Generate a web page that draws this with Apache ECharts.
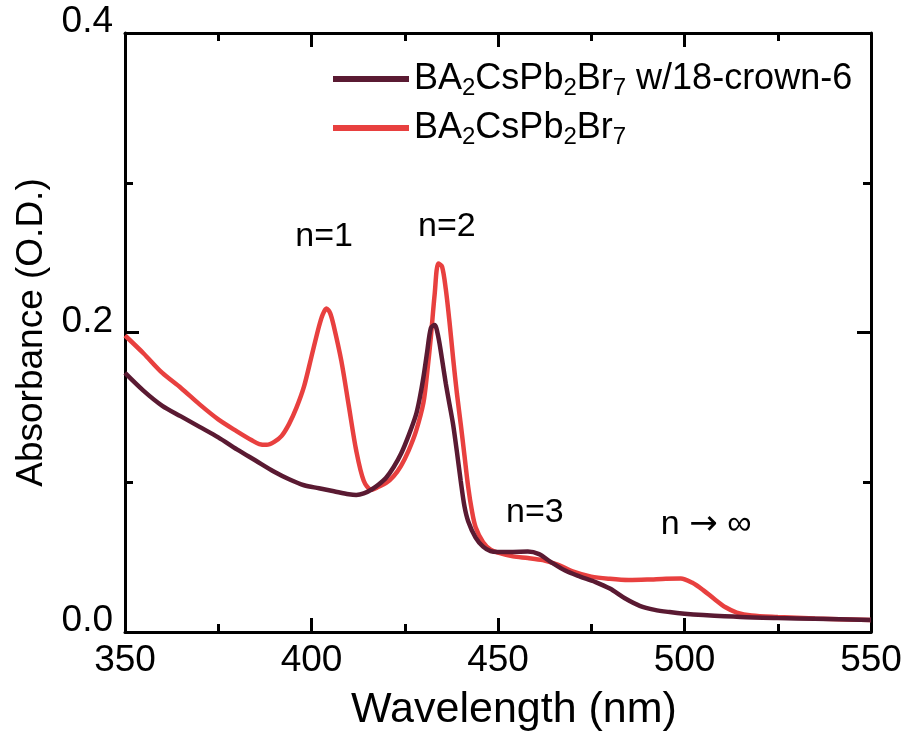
<!DOCTYPE html>
<html><head><meta charset="utf-8">
<script src="https://cdn.jsdelivr.net/npm/echarts@6/dist/echarts.min.js"></script>
<style>html,body{margin:0;padding:0;background:#fff}#c{width:909px;height:749px}</style>
</head><body><div id="c"></div>
<script>
const seriesNames = ['BA2CsPb2Br7 w/18-crown-6', 'BA2CsPb2Br7'];
const xTicks = [350, 400, 450, 500, 550];
const yTicks = [0.0, 0.2, 0.4];
// dark (with 18-crown-6)
const darkX = [350,355,360,365,370,375,380,385,390,394,398,402,406,410,412,414,416,418,420,422,424,426,428,429,430,431,432,433,434,435,436,437,438,439,440,441,442,444,446,448,450,454,458,461,464,468,472,476,480,484,488,492,496,500,505,515,525,535,550];
const darkY = [0.173,0.161,0.151,0.144,0.137,0.130,0.122,0.1145,0.107,0.102,0.098,0.096,0.094,0.092,0.0915,0.0925,0.095,0.0985,0.103,0.110,0.119,0.131,0.145,0.156,0.170,0.187,0.203,0.205,0.197,0.182,0.166,0.152,0.138,0.120,0.101,0.084,0.074,0.063,0.057,0.054,0.0535,0.0535,0.0537,0.052,0.047,0.041,0.037,0.0335,0.029,0.0225,0.0175,0.0148,0.0133,0.0122,0.0113,0.0100,0.0093,0.0088,0.008];
// red (pristine)
const redX = [350,355,360,365,370,375,380,384,386,388,390,392,394,396,398,400,402,403,404,405,406,408,410,412,414,416,418,420,422,424,426,428,430,431,432,433,434,435,436,437,438,439,440,441,442,443,444,446,448,450,454,458,462,466,470,475,480,485,490,495,499,502,505,508,511,514,518,525,535,550];
const redY = [0.198,0.186,0.173,0.163,0.152,0.142,0.134,0.128,0.1255,0.125,0.127,0.131,0.139,0.150,0.164,0.184,0.204,0.212,0.216,0.213,0.204,0.181,0.151,0.121,0.101,0.095,0.097,0.0995,0.104,0.111,0.121,0.134,0.153,0.173,0.197,0.225,0.246,0.244,0.229,0.207,0.182,0.159,0.139,0.118,0.097,0.081,0.070,0.060,0.055,0.053,0.0505,0.0494,0.048,0.045,0.0405,0.037,0.0355,0.0347,0.035,0.0356,0.0358,0.033,0.028,0.022,0.0165,0.013,0.011,0.010,0.009,0.008];
const annText = ['n=1', 'n=2', 'n=3', '{t|n }{a|\u2192}{t| \u221E}'];
const annX = [403.4, 436.3, 459.9, 505.8];
const annY = [0.264, 0.271, 0.0795, 0.0715];

const FONT = 'Liberation Sans, Arial, sans-serif';
const colors = ['#5a1a32', '#e8403f'];
function zip(a, b) { return a.map((v, i) => [v, b[i]]); }
function richName(name) {
  const m = name.match(/^BA2CsPb2Br7(.*)$/);
  return '{n|BA}{s|2}{n|CsPb}{s|2}{n|Br}{s|7}' + (m && m[1] ? '{n|' + m[1] + '}' : '');
}
const chart = echarts.init(document.getElementById('c'), null, {renderer: 'canvas'});
const axisCommon = {
  axisLine: {show: true, onZero: false, lineStyle: {color: '#000', width: 3}},
  axisTick: {show: true, inside: true, length: 14, lineStyle: {color: '#000', width: 3}},
  minorTick: {show: true, splitNumber: 2, length: 8, lineStyle: {color: '#000', width: 3}},
  splitLine: {show: false}
};
chart.setOption({
  animation: false,
  backgroundColor: '#fff',
  grid: {left: 125, right: 38, top: 33, bottom: 117, containLabel: false, outerBoundsMode: 'none'},
  legend: {
    left: 328, top: 53, orient: 'vertical', itemWidth: 76, itemHeight: 6, itemGap: 7,
    icon: 'rect', data: seriesNames,
    formatter: richName,
    textStyle: {
      color: '#000', fontFamily: FONT, fontSize: 36,
      rich: {
        n: {fontSize: 36, fontFamily: FONT, color: '#000', lineHeight: 41},
        s: {fontSize: 24, fontFamily: FONT, color: '#000', lineHeight: 41, padding: [18, 0, 0, 0]}
      }
    }
  },
  xAxis: [
    Object.assign({}, axisCommon, {
      type: 'value', min: xTicks[0], max: xTicks[xTicks.length - 1], interval: 50, position: 'bottom',
      name: 'Wavelength (nm)', nameLocation: 'middle', nameGap: 57,
      nameTextStyle: {fontFamily: FONT, fontSize: 43, color: '#000', padding: [0, 0, 0, 32]},
      axisLabel: {fontFamily: FONT, fontSize: 37, color: '#000', margin: 10}
    }),
    Object.assign({}, axisCommon, {
      type: 'value', min: xTicks[0], max: xTicks[xTicks.length - 1], interval: 50, position: 'top',
      axisLabel: {show: false}
    })
  ],
  yAxis: [
    Object.assign({}, axisCommon, {
      type: 'value', min: yTicks[0], max: yTicks[yTicks.length - 1], interval: 0.2, position: 'left',
      name: 'Absorbance (O.D.)', nameLocation: 'middle', nameGap: 74,
      nameTextStyle: {fontFamily: FONT, fontSize: 37, color: '#000'},
      axisLabel: {fontFamily: FONT, fontSize: 37, color: '#000', margin: 12, verticalAlign: 'bottom', lineHeight: 22,
                  formatter: v => v.toFixed(1)}
    }),
    Object.assign({}, axisCommon, {
      type: 'value', min: yTicks[0], max: yTicks[yTicks.length - 1], interval: 0.2, position: 'right',
      axisLabel: {show: false}
    })
  ],
  series: [
    {
      name: seriesNames[0], type: 'line', data: zip(darkX, darkY), smooth: 0.3, showSymbol: false,
      lineStyle: {color: colors[0], width: 4.5}, itemStyle: {color: colors[0]}, z: 3
    },
    {
      name: seriesNames[1], type: 'line', data: zip(redX, redY), smooth: 0.3, showSymbol: false,
      lineStyle: {color: colors[1], width: 4.5}, itemStyle: {color: colors[1]}, z: 2
    },
    {
      name: 'labels', type: 'scatter', symbolSize: 0, silent: true,
      itemStyle: {opacity: 1, color: '#000'},
      data: annX.map((x, i) => ({value: [x, annY[i]], label: {formatter: annText[i]}})),
      label: {show: true, position: 'inside', fontFamily: FONT, fontSize: 34, color: '#000', opacity: 1,
        rich: {
          t: {fontFamily: FONT, fontSize: 34, color: '#000'},
          a: {fontFamily: 'DejaVu Sans', fontSize: 34, color: '#000'}
        }}
    }
  ]
});
</script></body></html>
